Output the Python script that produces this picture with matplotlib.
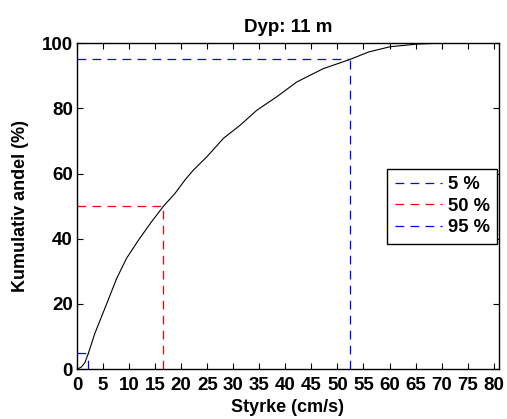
import matplotlib
matplotlib.use("Agg")
import matplotlib.pyplot as plt

plt.rcParams['font.family'] = ['Liberation Sans', 'DejaVu Sans']
plt.rcParams['font.weight'] = 'bold'

# cumulative distribution of current speed
speed = [0.0, 0.8, 1.5, 2.2, 3.4, 5.7, 7.6, 9.5, 11.8, 14.3, 16.6, 18.8,
         20.7, 22.3, 24.9, 28.1, 31.3, 34.5, 38.3, 42.2, 47.3, 52.4,
         56.0, 60.1, 65.2, 69.7, 76.0]
cum_pct = [0.0, 0.6, 2.0, 5.0, 10.9, 20.1, 27.8, 34.0, 39.6, 45.2, 50.0, 53.9,
           58.0, 61.0, 65.1, 70.8, 74.8, 79.4, 83.5, 88.1, 92.2, 95.0,
           97.3, 98.9, 99.7, 100.0, 100.0]

# percentile markers
levels = [5, 50, 95]
level_speed = [2.1, 16.5, 52.4]
level_colors = ['blue', 'red', 'blue']
level_labels = ['5 %', '50 %', '95 %']

fig = plt.figure(figsize=(5.07, 4.19), dpi=100)
ax = fig.add_axes([0.152, 0.119, 0.832, 0.778])

ax.plot(speed, cum_pct, color='black', lw=0.8)

for lev, sp, col, lab in zip(levels, level_speed, level_colors, level_labels):
    ax.plot([0, sp], [lev, lev], color=col, lw=0.9, dashes=(7, 5), label=lab)
    ax.plot([sp, sp], [0, lev], color=col, lw=0.9, dashes=(7, 5))

ax.set_xlim(0, 81)
ax.set_ylim(0, 100)
ax.set_xticks(range(0, 81, 5))
ax.set_yticks(range(0, 101, 20))
ax.tick_params(direction='in', top=True, right=True, length=4, width=0.8,
               labelsize=13.5)
ax.tick_params(axis='x', pad=6)
ax.tick_params(axis='y', pad=3)
for s in ax.spines.values():
    s.set_linewidth(1.0)

ax.set_title('Dyp: 11 m', fontsize=13.5, fontweight='bold', pad=8)
ax.set_xlabel('Styrke (cm/s)', fontsize=13, fontweight='bold', labelpad=3)
ax.set_ylabel('Kumulativ andel (%)', fontsize=13, fontweight='bold', labelpad=9)

leg = ax.legend(loc='center right', fontsize=13.2, handlelength=2.6,
                fancybox=False, framealpha=1, edgecolor='black',
                borderaxespad=0.1, handletextpad=0.3, labelspacing=0.25,
                borderpad=0.4)
leg.get_frame().set_linewidth(1.0)

fig.savefig('out.png', dpi=100)
